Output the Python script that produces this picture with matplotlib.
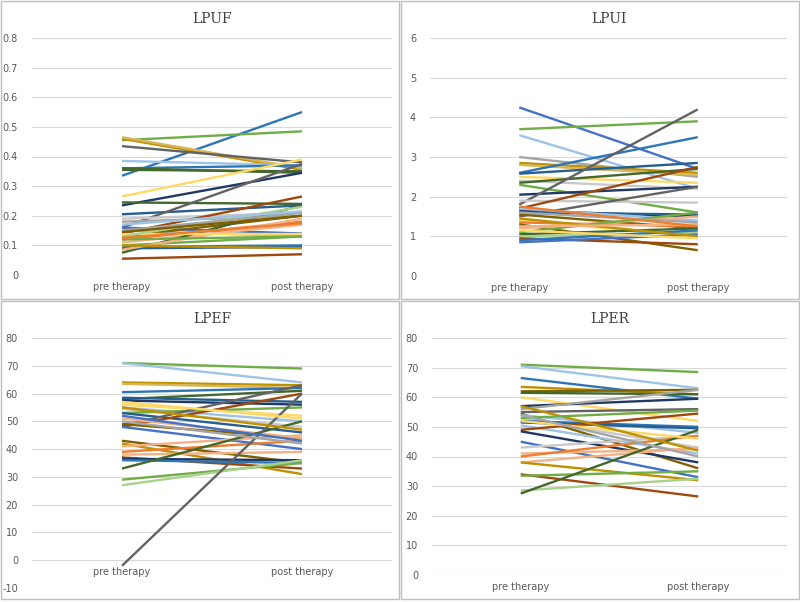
import matplotlib
matplotlib.use("Agg")
import matplotlib.pyplot as plt
from matplotlib.patches import Rectangle

# category labels
categories = ["pre therapy", "post therapy"]

# Excel-like colours
GREEN = "#70AD47"; DKGREEN = "#43682B"; LTGREEN = "#A9D18E"
BLUE = "#2E75B6"; MBLUE = "#4472C4"; LTBLUE = "#9DC3E6"; DKBLUE = "#255E91"; NAVY = "#1F3864"
GRAY = "#A5A5A5"; DKGRAY = "#636363"; LTGRAY = "#C9C9C9"
GOLD = "#BF9000"; LTGOLD = "#D6B656"; YELLOW = "#FFD966"; DKGOLD = "#7F6000"
ORANGE = "#ED7D31"; LTORANGE = "#F4B183"; BROWN = "#9E480E"

# LPUF: pre, post, colour
lpuf_pre = [0.335, 0.455, 0.46, 0.465, 0.435, 0.385, 0.36, 0.36, 0.355, 0.265, 0.235, 0.245,
            0.205, 0.16, 0.19, 0.18, 0.14, 0.15, 0.16, 0.13, 0.12, 0.11, 0.075, 0.10, 0.09,
            0.095, 0.055, 0.085, 0.14, 0.13, 0.12, 0.15, 0.145, 0.10, 0.17, 0.125]
lpuf_post = [0.55, 0.485, 0.355, 0.36, 0.38, 0.37, 0.37, 0.345, 0.35, 0.39, 0.345, 0.24,
             0.235, 0.375, 0.21, 0.20, 0.265, 0.13, 0.14, 0.20, 0.18, 0.17, 0.235, 0.13, 0.095,
             0.10, 0.07, 0.19, 0.14, 0.23, 0.13, 0.21, 0.20, 0.09, 0.215, 0.175]
lpuf_col = [BLUE, GREEN, GOLD, LTGOLD, DKGRAY, LTBLUE, BLUE, DKGREEN, DKGREEN, YELLOW, NAVY, DKGREEN,
            DKBLUE, DKGRAY, LTGRAY, GRAY, BROWN, LTBLUE, MBLUE, DKGOLD, ORANGE, LTORANGE, DKGREEN, GREEN, DKBLUE,
            BLUE, BROWN, LTORANGE, YELLOW, LTGREEN, GREEN, GRAY, DKGOLD, GOLD, LTBLUE, ORANGE]

# LPUI
lpui_pre = [4.25, 3.7, 3.55, 3.0, 2.85, 2.8, 2.6, 2.58, 2.5, 2.4, 2.35, 2.3, 2.05, 1.8, 1.9,
            1.7, 1.5, 1.65, 1.6, 1.55, 1.7, 1.4, 1.35, 1.3, 1.2, 1.1, 1.05, 1.0, 0.95, 0.9,
            0.85, 1.45, 1.25, 1.6, 1.75, 1.15]
lpui_post = [2.7, 3.9, 2.2, 2.5, 2.6, 2.55, 3.5, 2.85, 2.35, 2.2, 2.7, 1.6, 2.25, 4.2, 1.85,
             2.75, 2.25, 1.5, 1.55, 1.2, 1.4, 1.0, 1.25, 0.65, 1.5, 1.6, 1.2, 1.1, 0.8, 1.15,
             1.05, 1.0, 1.3, 1.35, 1.25, 0.95]
lpui_col = [MBLUE, GREEN, LTBLUE, GRAY, GOLD, LTGOLD, BLUE, DKBLUE, YELLOW, LTGRAY, DKGREEN, GREEN, NAVY, DKGRAY, LTGRAY,
            BROWN, DKGRAY, NAVY, DKBLUE, DKGOLD, LTBLUE, YELLOW, ORANGE, DKGOLD, LTORANGE, GREEN, DKGREEN, LTGREEN, BROWN, BLUE,
            MBLUE, GOLD, LTORANGE, GRAY, ORANGE, YELLOW]

# LPEF
lpef_pre = [71, 71, 64, 63.5, 60.5, 58, 58.5, 57.5, 56, 55, 54.5, 53, 53, 48.5, 48, 49, 48,
            51, 43, 42, 41, 39, 38, 37, 36.5, 36, 33, 29, 27, -2, 50, 55, 57, 52]
lpef_post = [69, 64, 63, 62, 62, 61, 57, 56, 52, 50, 48, 55, 46, 63, 60, 44, 40,
             44, 35, 31, 45, 43, 39, 33, 36, 35, 50, 35, 36, 60, 42, 47, 51, 43]
lpef_col = [GREEN, LTBLUE, GOLD, LTGOLD, BLUE, DKGREEN, DKBLUE, NAVY, YELLOW, LTBLUE, LTGRAY, GREEN, DKBLUE, DKGRAY, BROWN, DKGOLD, MBLUE,
            LTORANGE, DKGOLD, GOLD, LTORANGE, ORANGE, LTORANGE, BROWN, NAVY, BLUE, DKGREEN, GREEN, LTGREEN, DKGRAY, GRAY, GOLD, YELLOW, MBLUE]

# LPER
lper_pre = [71, 70.5, 66.5, 63.5, 62, 61.5, 60, 57, 56, 55, 54.5, 54, 53, 52, 51.5, 50.5,
            49, 48.5, 45, 43, 41, 40, 38, 38, 34, 33.5, 28.5, 27.5, 52, 57, 53, 54]
lper_post = [68.5, 63, 59.5, 61, 62.5, 61, 52, 59.5, 62.5, 56, 36, 48, 43, 50, 49.5, 41,
             54.5, 38, 33, 47, 42.5, 47, 43, 32, 26.5, 35, 32.5, 49, 46, 42, 55.5, 40]
lper_col = [GREEN, LTBLUE, BLUE, GOLD, DKGOLD, DKGREEN, YELLOW, NAVY, GRAY, DKGRAY, DKGOLD, LTBLUE, LTGRAY, BLUE, DKBLUE, LTBLUE,
            BROWN, NAVY, MBLUE, LTGRAY, LTORANGE, ORANGE, LTORANGE, GOLD, BROWN, GREEN, LTGREEN, DKGREEN, YELLOW, GOLD, GREEN, GRAY]

panels = [
    ("LPUF", lpuf_pre, lpuf_post, lpuf_col, (0, 0.8), [0, 0.1, 0.2, 0.3, 0.4, 0.5, 0.6, 0.7, 0.8],
     [32, 275, 392, 38]),
    ("LPUI", lpui_pre, lpui_post, lpui_col, (0, 6), [0, 1, 2, 3, 4, 5, 6],
     [430, 276, 787, 38]),
    ("LPEF", lpef_pre, lpef_post, lpef_col, (-10, 80), [-10, 0, 10, 20, 30, 40, 50, 60, 70, 80],
     [32, 588, 392, 338]),
    ("LPER", lper_pre, lper_post, lper_col, (0, 80), [0, 10, 20, 30, 40, 50, 60, 70, 80],
     [432, 575, 787, 338]),
]

W, H = 800, 602
fig = plt.figure(figsize=(8, 6.02), dpi=100)
fig.patch.set_facecolor("white")

# panel borders
for (x0, y0) in [(0, 0), (400, 0), (0, 300), (400, 300)]:
    fig.add_artist(Rectangle((x0 / W + 0.001, 1 - (y0 + 300) / H + 0.001), 400 / W - 0.002, 300 / H - 0.002,
                             transform=fig.transFigure, fill=False, edgecolor="#BFBFBF", lw=1))

for title, pre, post, cols, ylim, yticks, box in panels:
    xl, yb, xr, yt = box
    ax = fig.add_axes([xl / W, 1 - yb / H, (xr - xl) / W, (yb - yt) / H])
    for a, b, c in zip(pre, post, cols):
        ax.plot([0, 1], [a, b], color=c, lw=1.7, solid_capstyle="butt")
    ax.set_xlim(-0.5, 1.5)
    ax.set_ylim(*ylim)
    ax.set_yticks(yticks)
    ax.set_yticklabels([str(t) for t in yticks], fontsize=7, color="#595959")
    ax.tick_params(axis="y", length=0, pad=10)
    ax.set_xticks([])
    ax.grid(axis="y", color="#D9D9D9", lw=0.8)
    ax.set_axisbelow(True)
    for s in ax.spines.values():
        s.set_visible(False)
    for i, lab in enumerate(categories):
        ax.annotate(lab, (i, 0), xytext=(0, -5), textcoords="offset points",
                    ha="center", va="top", fontsize=7, color="#595959")
    ax.set_title(title, fontsize=10, color="#404040", pad=11, family="DejaVu Serif")

fig.savefig("out.png", dpi=100)
